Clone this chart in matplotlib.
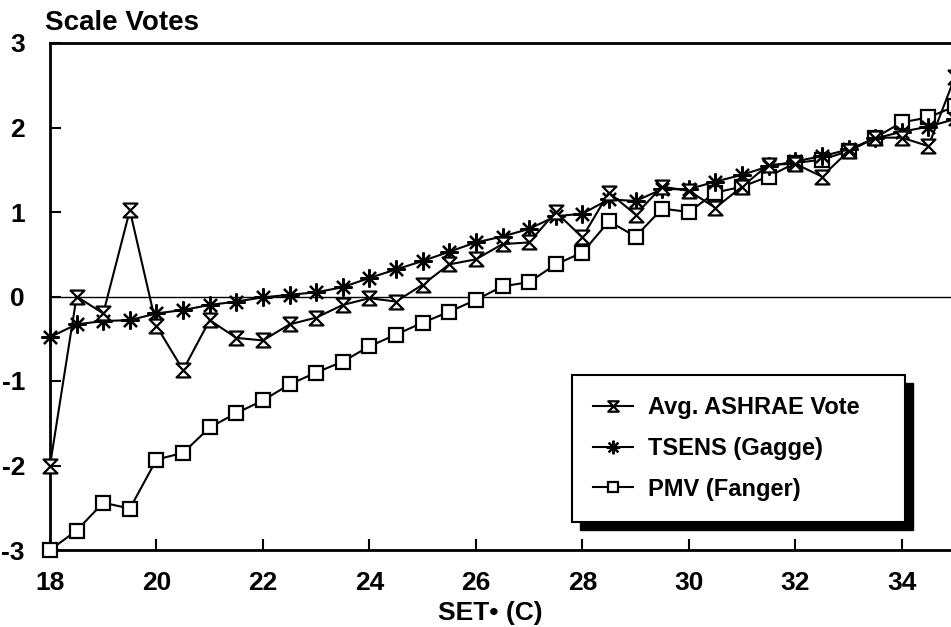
import matplotlib
matplotlib.use("Agg")
import matplotlib.pyplot as plt
from matplotlib.path import Path
from matplotlib.patches import Rectangle
from matplotlib.transforms import IdentityTransform

plt.rcParams['font.family'] = ['Liberation Sans', 'DejaVu Sans']
plt.rcParams['font.weight'] = 'bold'
plt.rcParams['axes.unicode_minus'] = False

set_temp = [18, 18.5, 19, 19.5, 20, 20.5, 21, 21.5, 22, 22.5, 23, 23.5, 24, 24.5,
            25, 25.5, 26, 26.5, 27, 27.5, 28, 28.5, 29, 29.5, 30, 30.5, 31, 31.5,
            32, 32.5, 33, 33.5, 34, 34.5, 35]
ashrae = [-2.0, 0.0, -0.2, 1.02, -0.35, -0.87, -0.28, -0.49, -0.52, -0.33, -0.25, -0.1,
          -0.02, -0.06, 0.14, 0.38, 0.44, 0.62, 0.64, 1.0, 0.7, 1.23, 0.97, 1.3, 1.25,
          1.05, 1.3, 1.56, 1.57, 1.42, 1.72, 1.88, 1.88, 1.78, 2.6]
tsens = [-0.48, -0.33, -0.29, -0.28, -0.2, -0.16, -0.1, -0.06, -0.01, 0.02, 0.05, 0.11,
         0.22, 0.32, 0.42, 0.53, 0.64, 0.71, 0.8, 0.95, 0.98, 1.15, 1.13, 1.27, 1.27,
         1.36, 1.44, 1.54, 1.6, 1.66, 1.74, 1.87, 1.95, 2.01, 2.1]
pmv = [-3.0, -2.77, -2.44, -2.51, -1.93, -1.85, -1.55, -1.38, -1.23, -1.04, -0.9, -0.77,
       -0.59, -0.45, -0.31, -0.18, -0.04, 0.12, 0.17, 0.38, 0.52, 0.89, 0.71, 1.04, 1.0,
       1.23, 1.3, 1.42, 1.58, 1.62, 1.72, 1.88, 2.06, 2.12, 2.25]

labels = ["Avg. ASHRAE Vote", "TSENS (Gagge)", "PMV (Fanger)"]
xticks = [18, 20, 22, 24, 26, 28, 30, 32, 34]
yticks = [-3, -2, -1, 0, 1, 2, 3]

W, H = 951, 627
fig = plt.figure(figsize=(W / 100, H / 100), dpi=100)
x0, x1 = 50, 955
ytop, ybot = 43, 550
ax = fig.add_axes([x0 / W, (H - ybot) / H, (x1 - x0) / W, (ybot - ytop) / H])
ax.set_xlim(18, 35)
ax.set_ylim(-3, 3)

hourglass = Path([(-1, 1), (1, 1), (-1, -1), (1, -1), (-1, 1)],
                 [Path.MOVETO, Path.LINETO, Path.LINETO, Path.LINETO, Path.CLOSEPOLY])

ax.axhline(0, color='black', lw=1.0, zorder=1)
common = dict(color='black', lw=1.5, markerfacecolor='white', markeredgecolor='black',
              markeredgewidth=1.6, clip_on=False)
ax.plot(set_temp, pmv, marker='s', markersize=10, label=labels[2], zorder=3, **common)
ax.plot(set_temp, tsens, marker=(8, 2, 0), markersize=13, label=labels[1], zorder=4, **common)
ax.plot(set_temp, ashrae, marker=hourglass, markersize=10, label=labels[0], zorder=5, **common)

ax.set_xticks(xticks)
ax.set_yticks(yticks)
ax.set_xticklabels([str(t) for t in xticks])
ax.set_yticklabels([str(t) for t in yticks])
ax.tick_params(axis='both', direction='in', length=8, width=1.5, labelsize=19)
ax.tick_params(axis='x', pad=15)
ax.tick_params(axis='y', pad=18)
for s in ['left', 'bottom', 'top']:
    ax.spines[s].set_linewidth(2)
ax.spines['right'].set_visible(False)

ax.set_xlabel("SET\u2022 (C)", fontsize=19, fontweight='bold', labelpad=1)
ax.xaxis.set_label_coords(0.487, -0.1)
fig.text(45 / W, 1 - 30 / H, "Scale Votes", fontsize=20, fontweight='bold',
         ha='left', va='baseline')

# legend box in axes fraction: pixels x 572..905, y 378..522
lx0 = (572 - x0) / (x1 - x0)
lx1 = (905 - x0) / (x1 - x0)
ly0 = (ybot - 522) / (ybot - ytop)
ly1 = (ybot - 378) / (ybot - ytop)

h, l = ax.get_legend_handles_labels()
order = [2, 1, 0]
leg = ax.legend([h[i] for i in order], [l[i] for i in order],
                loc='lower left', bbox_to_anchor=(lx0, ly0, lx1 - lx0, ly1 - ly0),
                mode='expand', borderaxespad=0,
                fancybox=False, edgecolor='black', framealpha=1, fontsize=17,
                handlelength=1.7, handletextpad=0.6, labelspacing=0.75,
                borderpad=0.9, markerscale=0.75)
leg.get_frame().set_linewidth(1.5)
leg.set_zorder(10)
for t in leg.get_texts():
    t.set_fontweight('bold')

fig.canvas.draw()
bb = leg.get_window_extent()
shadow = Rectangle((bb.x0 + 8, bb.y0 - 8), bb.width, bb.height,
                   transform=IdentityTransform(), facecolor='black',
                   edgecolor='black', zorder=9)
ax.add_artist(shadow)

fig.savefig("out.png", dpi=100)
